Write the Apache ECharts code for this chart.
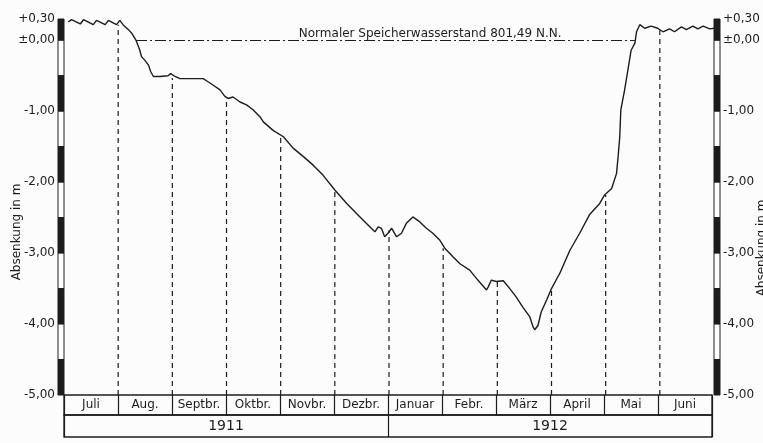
<!DOCTYPE html>
<html>
<head>
<meta charset="utf-8">
<script src="https://cdn.jsdelivr.net/npm/echarts@6/dist/echarts.min.js"></script>
<style>html,body{margin:0;padding:0;background:#fcfcfc;}#c{width:763px;height:443px;}</style>
</head>
<body>
<div id="c"></div>
<script>
// ---- data ----
const months = ['Juli', 'Aug.', 'Septbr.', 'Oktbr.', 'Novbr.', 'Dezbr.', 'Januar', 'Febr.', 'März', 'April', 'Mai', 'Juni'];
const years = ['1911', '1912'];
const yTicks = [0.3, 0, -1, -2, -3, -4, -5];
const yTickLabels = ['+0,30', '±0,00', '-1,00', '-2,00', '-3,00', '-4,00', '-5,00'];
const axisTitle = 'Absenkung in m';
// time in months from 1 July 1911
const curveT = [0.08, 0.14, 0.30, 0.36, 0.54, 0.60, 0.76, 0.82, 0.97, 1.03, 1.09, 1.19, 1.25, 1.28, 1.33, 1.40, 1.43, 1.49, 1.56, 1.60, 1.65, 1.77, 1.92, 1.97, 2.05, 2.14, 2.39, 2.57, 2.63, 2.75, 2.88, 2.97, 3.03, 3.12, 3.25, 3.37, 3.49, 3.62, 3.68, 3.86, 4.05, 4.23, 4.42, 4.60, 4.78, 5.00, 5.22, 5.40, 5.58, 5.74, 5.80, 5.86, 5.92, 5.98, 6.05, 6.14, 6.23, 6.32, 6.44, 6.57, 6.69, 6.81, 6.94, 7.03, 7.18, 7.31, 7.49, 7.64, 7.80, 7.83, 7.89, 7.98, 8.11, 8.23, 8.35, 8.47, 8.60, 8.66, 8.69, 8.75, 8.81, 8.91, 9.00, 9.12, 9.15, 9.34, 9.52, 9.70, 9.89, 9.98, 10.11, 10.20, 10.23, 10.26, 10.28, 10.35, 10.41, 10.47, 10.54, 10.57, 10.63, 10.72, 10.84, 10.96, 11.06, 11.18, 11.27, 11.40, 11.49, 11.61, 11.70, 11.80, 11.92, 12.00];
const curveLevel = [0.26, 0.29, 0.23, 0.29, 0.22, 0.28, 0.22, 0.28, 0.22, 0.28, 0.22, 0.15, 0.10, 0.12, 0.00, -0.14, -0.23, -0.28, -0.35, -0.44, -0.51, -0.51, -0.50, -0.47, -0.51, -0.54, -0.54, -0.54, -0.57, -0.63, -0.70, -0.79, -0.82, -0.80, -0.87, -0.91, -0.98, -1.08, -1.15, -1.27, -1.36, -1.52, -1.64, -1.76, -1.90, -2.11, -2.30, -2.44, -2.58, -2.70, -2.63, -2.65, -2.77, -2.72, -2.65, -2.77, -2.72, -2.58, -2.49, -2.56, -2.65, -2.72, -2.82, -2.93, -3.05, -3.15, -3.24, -3.38, -3.52, -3.48, -3.38, -3.40, -3.39, -3.50, -3.62, -3.76, -3.90, -4.04, -4.08, -4.02, -3.83, -3.66, -3.50, -3.33, -3.29, -2.96, -2.72, -2.46, -2.30, -2.18, -2.09, -1.88, -1.64, -1.36, -0.98, -0.70, -0.42, -0.14, -0.04, 0.12, 0.22, 0.17, 0.20, 0.17, 0.12, 0.16, 0.12, 0.19, 0.15, 0.20, 0.16, 0.20, 0.16, 0.17];
const boundaryT = [1, 2, 3, 4, 5, 6, 7, 8, 9, 10, 11];
const boundaryLevel = [0.22, -0.53, -0.81, -1.36, -2.11, -2.68, -2.93, -3.40, -3.50, -2.18, 0.14];
const normalLevel = 0;
const normalFrom = 1.33;
const normalTo = 10.54;
const normalLabelAt = 6.76;
const normalLabel = 'Normaler Speicherwasserstand 801,49 N.N.';
// scale bar bands [from, to, dark]
const bandFrom = [0.3, 0, -0.5, -1, -1.5, -2, -2.5, -3, -3.5, -4, -4.5];
const bandTo = [0, -0.5, -1, -1.5, -2, -2.5, -3, -3.5, -4, -4.5, -5];
const bandDark = [1, 0, 1, 0, 1, 0, 1, 0, 1, 0, 1];

// ---- chart ----
const INK = '#1c1c1c';
const FONT = 'DejaVu Sans';
const chart = echarts.init(document.getElementById('c'), null, {renderer: 'canvas'});

const curveData = curveT.map((t, i) => [t, curveLevel[i]]);
const boundaryData = boundaryT.map((t, i) => [t, boundaryLevel[i]]);
const bandData = bandFrom.map((f, i) => [f, bandTo[i], bandDark[i]]);

function tickLabel(v) {
  for (let i = 0; i < yTicks.length; i++) if (Math.abs(yTicks[i] - v) < 1e-6) return yTickLabels[i];
  return '';
}

const option = {
  backgroundColor: '#fcfcfc',
  animation: false,
  textStyle: {fontFamily: FONT, color: INK},
  grid: [
    {left: 64, right: 49, top: 19, bottom: 48, outerBoundsMode: 'none'},
    {left: 64, right: 51, top: 395, height: 20, show: true, borderColor: INK, borderWidth: 1.3, backgroundColor: 'transparent', outerBoundsMode: 'none'},
    {left: 64, right: 51, top: 415, height: 22, show: true, borderColor: INK, borderWidth: 1.3, backgroundColor: 'transparent', outerBoundsMode: 'none'}
  ],
  xAxis: [
    {gridIndex: 0, type: 'value', min: 0, max: 12, show: false},
    {gridIndex: 1, type: 'category', data: months, boundaryGap: true, position: 'bottom',
      axisLine: {show: false}, axisTick: {show: false},
      splitLine: {show: true, interval: 0, lineStyle: {color: INK, width: 1.2}},
      axisLabel: {interval: 0, margin: -16, fontSize: 12, color: INK, fontFamily: FONT}},
    {gridIndex: 2, type: 'category', data: years, boundaryGap: true, position: 'bottom',
      axisLine: {show: false}, axisTick: {show: false},
      splitLine: {show: true, interval: 0, lineStyle: {color: INK, width: 1.2}},
      axisLabel: {interval: 0, margin: -18, fontSize: 14, color: INK, fontFamily: FONT}}
  ],
  yAxis: [
    {gridIndex: 0, type: 'value', min: -5, max: 0.3, position: 'left',
      axisLine: {show: false}, axisTick: {show: false}, splitLine: {show: false},
      axisLabel: {customValues: yTicks, formatter: tickLabel, margin: 9, fontSize: 12, color: INK, fontFamily: FONT}},
    {gridIndex: 0, type: 'value', min: -5, max: 0.3, position: 'right',
      axisLine: {show: false}, axisTick: {show: false}, splitLine: {show: false},
      axisLabel: {customValues: yTicks, formatter: tickLabel, margin: 9, fontSize: 12, color: INK, fontFamily: FONT}},
    {gridIndex: 1, type: 'value', show: false},
    {gridIndex: 2, type: 'value', show: false}
  ],
  graphic: [
    {type: 'text', x: 17, y: 232, rotation: Math.PI / 2,
      style: {text: axisTitle, fill: INK, font: '12px "DejaVu Sans"', align: 'center', verticalAlign: 'middle'}},
    {type: 'text', x: 762, y: 248, rotation: Math.PI / 2,
      style: {text: axisTitle, fill: INK, font: '12px "DejaVu Sans"', align: 'center', verticalAlign: 'middle'}}
  ],
  series: [
    {
      type: 'custom', xAxisIndex: 0, yAxisIndex: 0, silent: true,
      data: boundaryData,
      renderItem: function (params, api) {
        const t = api.value(0), top = api.value(1);
        const a = api.coord([t, -5]);
        const b = api.coord([t, top]);
        return {type: 'line', shape: {x1: a[0], y1: a[1], x2: b[0], y2: b[1]},
          style: {stroke: INK, lineWidth: 1.2, lineDash: [5, 4]}};
      }
    },
    {
      type: 'line', xAxisIndex: 0, yAxisIndex: 0, silent: true,
      data: curveData, showSymbol: false, symbol: 'none',
      lineStyle: {color: INK, width: 1.4},
      markLine: {
        silent: true, symbol: 'none', label: {show: false},
        lineStyle: {color: INK, width: 1.1, type: [11, 3, 2, 3]},
        data: [[{coord: [normalFrom, normalLevel]}, {coord: [normalTo, normalLevel]}]]
      },
      markPoint: {
        silent: true, symbol: 'circle', symbolSize: 0,
        label: {show: true, position: 'top', distance: 0, formatter: normalLabel, color: INK, fontSize: 12, fontFamily: FONT},
        data: [{coord: [normalLabelAt, normalLevel]}]
      }
    },
    {
      type: 'custom', xAxisIndex: 0, yAxisIndex: 0, silent: true,
      data: bandData,
      renderItem: function (params, api) {
        const cs = params.coordSys;
        const p0 = api.coord([0, api.value(0)]);
        const p1 = api.coord([0, api.value(1)]);
        const dark = api.value(2) === 1;
        const st = {fill: dark ? INK : '#ffffff', stroke: INK, lineWidth: 1};
        return {type: 'group', children: [
          {type: 'rect', shape: {x: cs.x - 6, y: p0[1], width: 6, height: p1[1] - p0[1]}, style: st},
          {type: 'rect', shape: {x: cs.x + cs.width, y: p0[1], width: 6, height: p1[1] - p0[1]}, style: st}
        ]};
      }
    }
  ]
};
chart.setOption(option);
</script>
</body>
</html>
